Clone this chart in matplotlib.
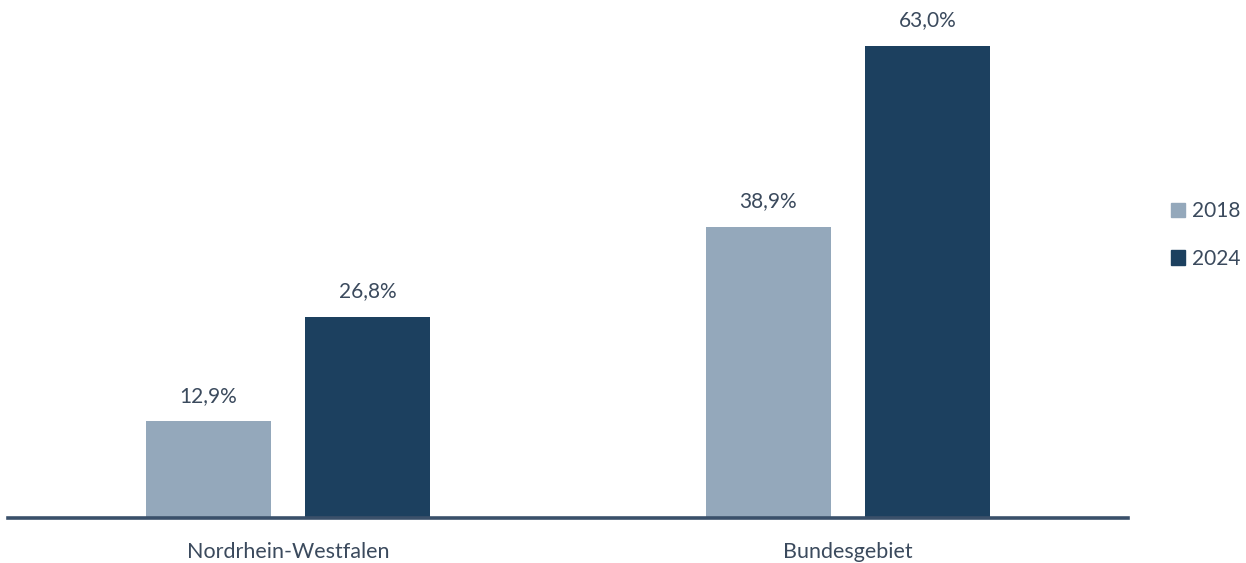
import numpy as np
import matplotlib.pyplot as plt
from matplotlib.patches import Patch

plt.rcParams['font.family'] = ['Lato', 'DejaVu Sans']

regions = ['Nordrhein-Westfalen', 'Bundesgebiet']
years = ['2018', '2024']
share_2018 = [12.9, 38.9]
share_2024 = [26.8, 63.0]

light = '#94a8bb'
dark = '#1c405f'
text_col = '#3b4a5d'

fig = plt.figure(figsize=(12.46, 5.63), dpi=100)
ax = fig.add_axes([8 / 1246, 45 / 563, 1120 / 1246, (518 - 8.7) / 563])

x = np.arange(len(regions))
w = 0.223
off = 0.1425
b1 = ax.bar(x - off, share_2018, w, color=light)
b2 = ax.bar(x + off, share_2024, w, color=dark)

for bars, vals in ((b1, share_2018), (b2, share_2024)):
    for b, v in zip(bars, vals):
        ax.text(b.get_x() + b.get_width() / 2, v + 2.1, f'{v:.1f}%'.replace('.', ','),
                ha='center', va='bottom', fontsize=15, color=text_col)

ax.set_xlim(-0.5, 1.5)
ax.set_ylim(0, 68)
ax.set_yticks([])
for s in ['top', 'right', 'left']:
    ax.spines[s].set_visible(False)
ax.spines['bottom'].set_color('#3a506a')
ax.spines['bottom'].set_linewidth(2.6)
ax.set_xticks(x)
ax.set_xticklabels(regions, fontsize=15.5, color=text_col)
ax.tick_params(axis='x', length=0, pad=17)

handles = [Patch(color=light), Patch(color=dark)]
fig.legend(handles, years, loc='center left', bbox_to_anchor=(1152 / 1246, 1 - 235 / 563),
           frameon=False, fontsize=15, handlelength=0.7, handleheight=0.7,
           handletextpad=0.3, labelspacing=1.3, labelcolor=text_col)

fig.savefig('out.png', dpi=100)
